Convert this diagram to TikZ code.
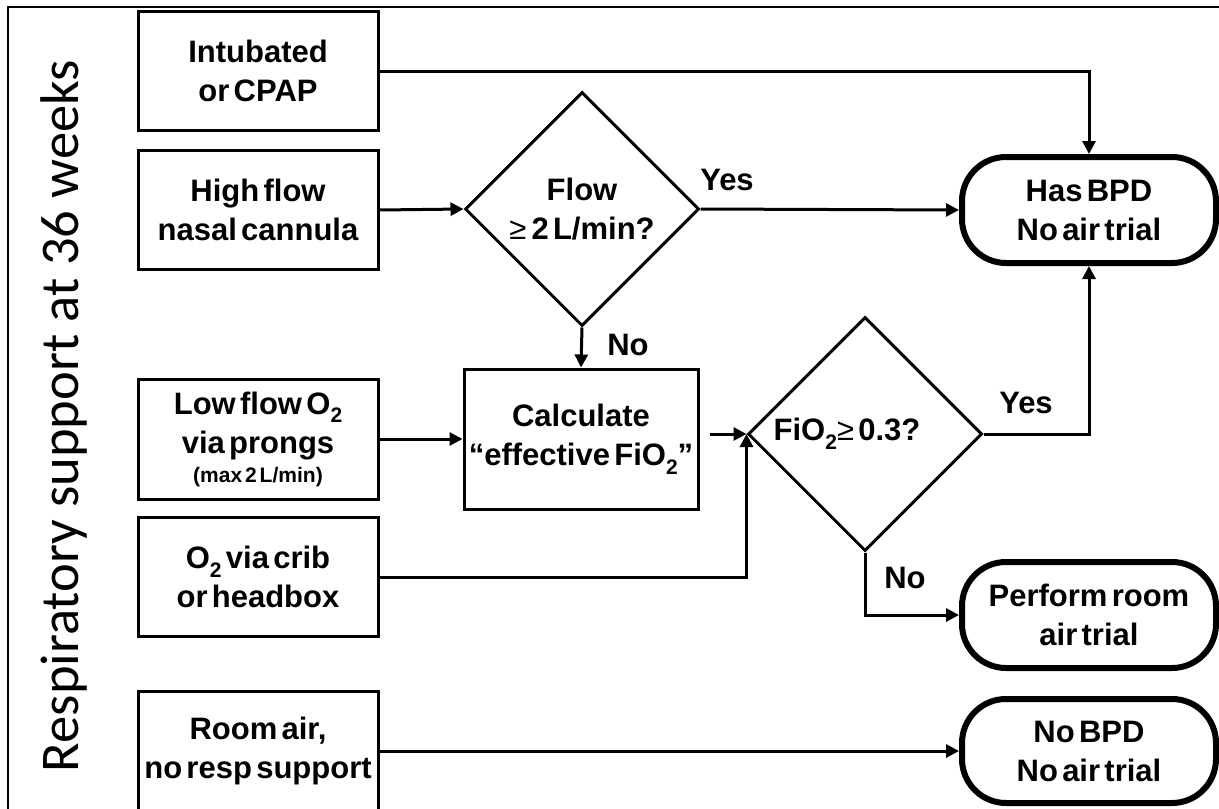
\documentclass[tikz,border=0pt]{standalone}
\usepackage{fontspec}
\setmainfont{Liberation Sans}[WordSpace=0.5]
\newfontfamily\titlefont{Carlito}
\usetikzlibrary{shapes.geometric,arrows.meta}
\newcommand\subtwo{\raisebox{-0.28em}{\fontsize{21}{21}\selectfont 2}}
\newcommand\gesym{{\fontseries{m}\selectfont ≥}}
\newcommand\boxfont{\fontsize{31}{39}\selectfont\bfseries}
\begin{document}
\begin{tikzpicture}[x=1pt,y=-1pt,
  box/.style={draw, line width=3pt, minimum width=240pt, minimum height=119pt, inner sep=0pt, align=center, font=\boxfont},
  term/.style={draw, line width=6pt, rounded corners=44pt, minimum width=254pt, minimum height=106pt, inner sep=0pt, align=center, font=\boxfont},
  dia/.style={draw, diamond, line width=3pt, minimum width=234pt, minimum height=234pt, inner sep=0pt, align=center, font=\boxfont},
  arr/.style={line width=3pt, -{Triangle[length=13pt,width=13pt]}},
  lab/.style={font=\boxfont, inner sep=0pt},
  frame/.style={line width=2pt}]
\useasboundingbox (0,0) rectangle (1219,809);
% frame
\coordinate (ftl) at (8,7);
\coordinate (ftr) at (1219,7);
\coordinate (fbl) at (8,809);
\draw[frame] (ftr) -- (ftl) -- (fbl);
% title
\node[rotate=90, anchor=base, inner sep=0pt, font=\titlefont\fontsize{54.5}{60}\selectfont] (title) at (78,416) {Respiratory support at 36 weeks};
% left boxes
\node[box] (intub) at (258,71) {Intubated\\or CPAP};
\node[box] (hfnc) at (258,210) {High flow\\nasal cannula};
\node[box, minimum height=120pt] (lowf) at (258,439) {Low flow O\subtwo\\via prongs\\[-10pt]{\fontsize{21}{24}\selectfont (max 2 L/min)}};
\node[box] (crib) at (258,577) {O\subtwo{} via crib\\or headbox};
\node[box] (room) at (258,751) {Room air,\\no resp support};
% decisions
\node[dia] (flow) at (582,209) {Flow\\\gesym\,2 L/min?};
\node[box, minimum width=234pt, minimum height=140pt] (calc) at (581,439) {Calculate\\“effective FiO\subtwo”};
\node[dia] (fio2) at (865,434) {};
\node[lab] (fio2t) at (847,434) {FiO\subtwo\gesym{} 0.3?};
% terminals
\node[term] (hasbpd) at (1089,210) {Has BPD\\No air trial};
\node[term] (perform) at (1089,615) {Perform room\\air trial};
\node[term, minimum height=104pt] (nobpd) at (1089,751) {No BPD\\No air trial};
% connectors
\draw[arr] (intub.east) -| (hasbpd.north);
\draw[arr] (hfnc.east) -- (flow.west);
\draw[arr] (flow.east) -- (hasbpd.west);
\node[lab] (yes1) at (727,180) {Yes};
\draw[arr] (flow.south) -- (calc.north);
\node[lab] (no1) at (628,345) {No};
\draw[arr] (lowf.east) -- (calc.west);
\coordinate (calcout) at (710,434);
\draw[arr] (calcout) -- (fio2.west);
\draw[arr] (crib.east) -| (fio2.west);
\draw[arr] (fio2.east) -| (hasbpd.south);
\node[lab] (yes2) at (1026,403) {Yes};
\draw[arr] (fio2.south) |- (perform.west);
\node[lab] (no2) at (905,578) {No};
\draw[arr] (room.east) -- (nobpd.west);
\end{tikzpicture}
\end{document}
